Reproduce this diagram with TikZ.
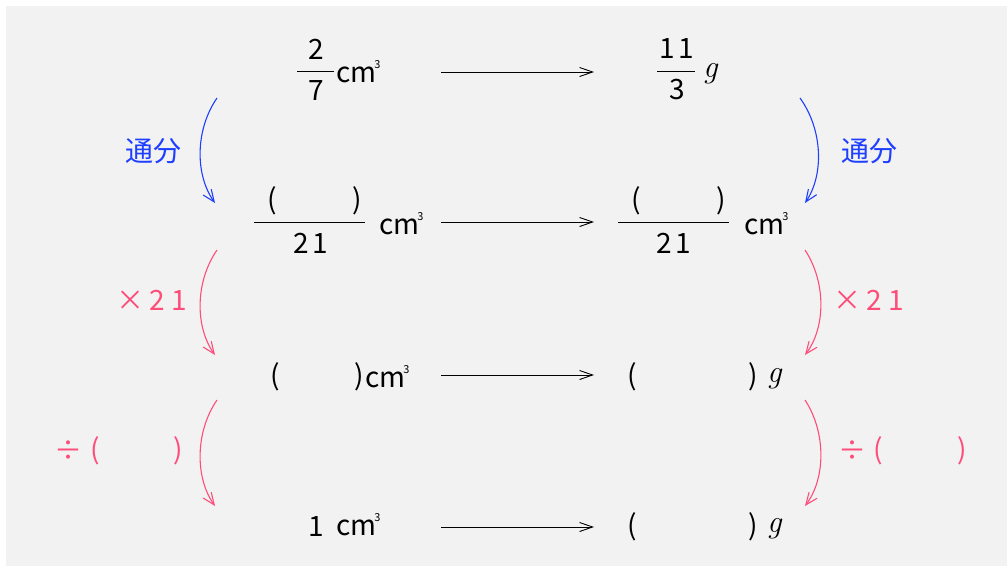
\documentclass[tikz,border=0pt]{standalone}
\usepackage{fontspec}
\newfontfamily\jp{Noto Sans CJK JP}
\usetikzlibrary{arrows.meta}
\definecolor{bg}{HTML}{F2F2F2}
\definecolor{ublue}{HTML}{1F3FFF}
\definecolor{upink}{HTML}{FF4D7A}
\newcommand{\cmcube}{cm\kern-2pt\raisebox{14pt}{\fontsize{11}{11}\selectfont 3}}
\newcommand{\gunit}{\fontsize{32}{32}\selectfont$\mathit{g}$}
\tikzset{
  txt/.style={inner sep=0pt, font=\jp\fontsize{28}{28}\selectfont},
  lbl/.style={txt},
  flow/.style={line width=0.9pt, -{Straight Barb[length=13pt,width=9pt]}},
  curv/.style={line width=1.1pt, -{Straight Barb[length=12pt,width=10pt]}},
  barline/.style={line width=1pt},
}
\begin{document}
\begin{tikzpicture}[x=1pt,y=-1pt]
\useasboundingbox (0,0) rectangle (1007,566);
\fill[bg] (6,6) rectangle (1007,566);

% Row 1
\node[txt] (n1) at (316,49) {2};
\node[txt] (d1) at (316,91) {7};
\draw[barline] (297,71) -- (334,71);
\node[txt, anchor=west] (u1) at (336,72) {\cmcube};
\node[txt] (n2) at (677,49) {1\hspace{3pt}1};
\node[txt] (d2) at (677,90) {3};
\draw[barline] (657,71) -- (695,71);
\node[txt, anchor=west, inner sep=0pt] (g1) at (703,74) {\gunit};

% Row 2
\node[txt] (p1) at (272,201) {(};
\node[txt] (q1) at (357,201) {)};
\draw[barline] (254,222) -- (365,222);
\node[txt] (t1) at (311,243) {2\hspace{4pt}1};
\node[txt, anchor=west] (u2) at (379,224) {\cmcube};
\node[txt] (p2) at (636,201) {(};
\node[txt] (q2) at (721,201) {)};
\draw[barline] (618,222) -- (729,222);
\node[txt] (t2) at (674,243) {2\hspace{4pt}1};
\node[txt, anchor=west] (u3) at (744,224) {\cmcube};

% Row 3
\node[txt] (p3) at (275,377) {(};
\node[txt] (q3) at (359,377) {)};
\node[txt, anchor=west] (u4) at (365,377) {\cmcube};
\node[txt] (p4) at (632,377) {(};
\node[txt] (q4) at (753,377) {)};
\node[txt, anchor=west] (g2) at (767,379) {\gunit};

% Row 4
\node[txt] (o4) at (316,527) {1};
\node[txt, anchor=west] (u5) at (336,525) {\cmcube};
\node[txt] (p5) at (632,527) {(};
\node[txt] (q5) at (753,527) {)};
\node[txt, anchor=west] (g3) at (767,529) {\gunit};

% horizontal arrows
\coordinate (a1) at (441,72); \coordinate (b1) at (594,72);
\coordinate (a2) at (441,222); \coordinate (b2) at (594,222);
\coordinate (a3) at (441,375); \coordinate (b3) at (594,375);
\coordinate (a4) at (441,527); \coordinate (b4) at (594,527);
\draw[flow] (a1) -- (b1);
\draw[flow] (a2) -- (b2);
\draw[flow] (a3) -- (b3);
\draw[flow] (a4) -- (b4);

% curved arrows, left
\coordinate (ls1) at (217,98);  \coordinate (le1) at (215,203);
\coordinate (ls2) at (217,250); \coordinate (le2) at (215,355);
\coordinate (ls3) at (217,400); \coordinate (le3) at (215,506);
\draw[curv, ublue] (ls1) .. controls (195,130) and (195,175) .. (le1);
\draw[curv, upink] (ls2) .. controls (195,282) and (195,327) .. (le2);
\draw[curv, upink] (ls3) .. controls (195,432) and (195,478) .. (le3);

% curved arrows, right
\coordinate (rs1) at (800,98);  \coordinate (re1) at (805,203);
\coordinate (rs2) at (805,250); \coordinate (re2) at (805,355);
\coordinate (rs3) at (805,400); \coordinate (re3) at (805,506);
\draw[curv, ublue] (rs1) .. controls (823,130) and (824,175) .. (re1);
\draw[curv, upink] (rs2) .. controls (826,282) and (826,327) .. (re2);
\draw[curv, upink] (rs3) .. controls (826,432) and (826,478) .. (re3);

% labels
\node[lbl, ublue] (l1) at (153,151) {通分};
\node[lbl, ublue] (r1) at (869,151) {通分};
\node[lbl, upink] (l2) at (152,300) {×\hspace{5pt}2\hspace{6pt}1};
\node[lbl, upink] (r2) at (869,300) {×\hspace{5pt}2\hspace{6pt}1};
\node[lbl, upink] (l3d) at (68,451) {÷};
\node[lbl, upink] (l3p) at (95,451) {(};
\node[lbl, upink] (l3q) at (178,451) {)};
\node[lbl, upink] (r3d) at (852,451) {÷};
\node[lbl, upink] (r3p) at (878,451) {(};
\node[lbl, upink] (r3q) at (962,451) {)};
\end{tikzpicture}
\end{document}
